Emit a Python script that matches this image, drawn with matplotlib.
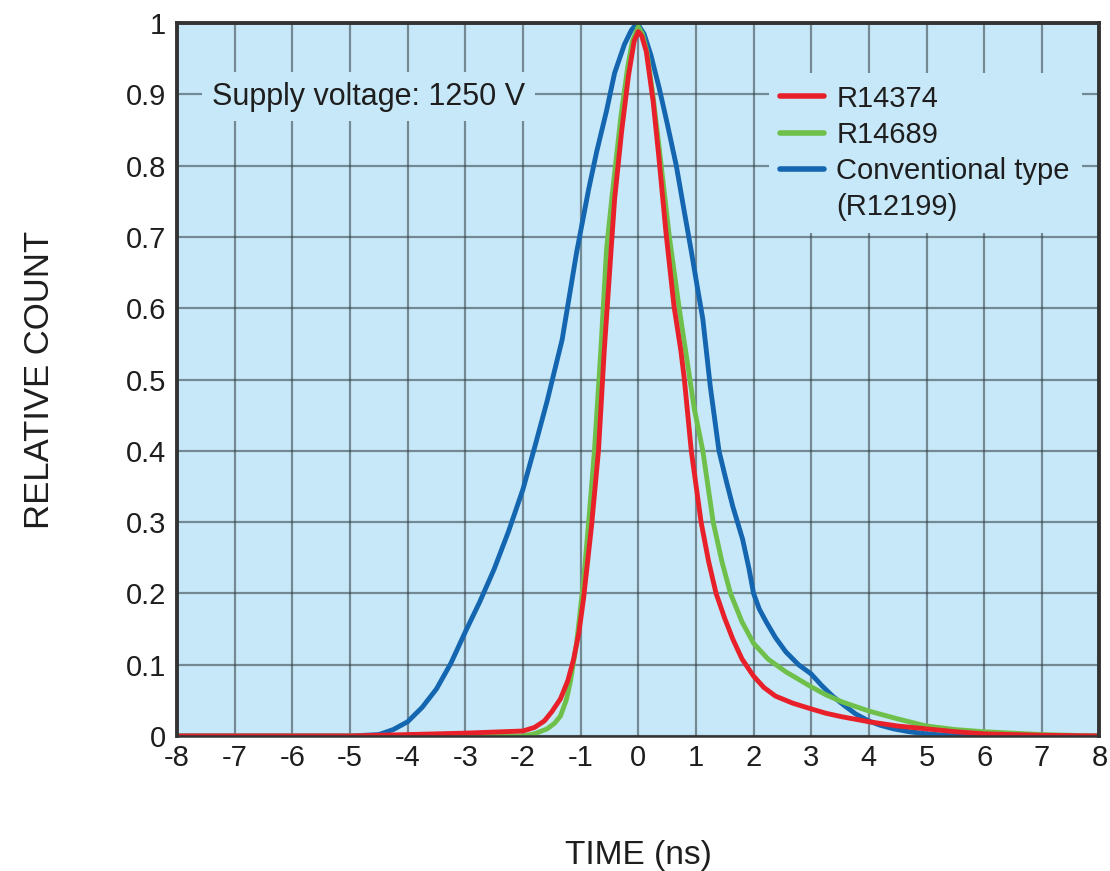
import matplotlib
matplotlib.use("Agg")
import matplotlib.pyplot as plt
from matplotlib.lines import Line2D

plt.rcParams['font.family'] = ['Liberation Sans', 'DejaVu Sans']
plt.rcParams['axes.unicode_minus'] = False

# ---- data ----
blue_x = [-8, -5, -4.5, -4.25, -4.0, -3.75, -3.5, -3.25, -3.0, -2.75, -2.5, -2.25, -2.0, -1.78,
          -1.58, -1.32, -1.07, -0.86, -0.72, -0.55, -0.41, -0.24, -0.12, -0.02, 0.1, 0.22,
          0.36, 0.5, 0.66, 0.8, 0.92, 1.02, 1.12, 1.25, 1.40, 1.52, 1.64, 1.81, 1.92, 2.0,
          2.1, 2.22, 2.38, 2.56, 2.78, 3.0, 3.18, 3.37, 3.57, 3.77, 4.0, 4.2, 4.43, 4.7, 5.0,
          5.5, 8]
blue_y = [0, 0, 0.002, 0.009, 0.02, 0.04, 0.066, 0.102, 0.146, 0.188, 0.234, 0.287, 0.346,
          0.41, 0.47, 0.556, 0.678, 0.767, 0.82, 0.877, 0.93, 0.97, 0.99, 1.0, 0.985, 0.955,
          0.91, 0.86, 0.80, 0.735, 0.68, 0.632, 0.585, 0.49, 0.40, 0.36, 0.322, 0.276, 0.235,
          0.2, 0.178, 0.16, 0.138, 0.118, 0.1, 0.087, 0.071, 0.056, 0.043, 0.031, 0.021, 0.015,
          0.01, 0.006, 0.003, 0.0, 0]

red_x = [-8, -5, -4, -3, -2.0, -1.8, -1.63, -1.5, -1.35, -1.22, -1.12, -1.03, -0.95, -0.81,
         -0.69, -0.59, -0.47, -0.41, -0.29, -0.17, -0.07, 0.0, 0.06, 0.14, 0.26, 0.36, 0.48,
         0.62, 0.74, 0.8, 0.92, 1.09, 1.22, 1.35, 1.5, 1.64, 1.8, 2.0, 2.18, 2.38, 2.68, 3.0,
         3.25, 3.53, 4.0, 4.5, 5.0, 5.5, 6.0, 7.0, 8.0]
red_y = [0, 0, 0.002, 0.004, 0.007, 0.012, 0.021, 0.034, 0.052, 0.078, 0.108, 0.145, 0.192,
         0.295, 0.40, 0.54, 0.683, 0.753, 0.847, 0.926, 0.975, 0.988, 0.982, 0.96, 0.889, 0.81,
         0.707, 0.603, 0.54, 0.5, 0.4, 0.3, 0.245, 0.2, 0.165, 0.136, 0.108, 0.084, 0.068,
         0.056, 0.046, 0.038, 0.032, 0.027, 0.02, 0.014, 0.01, 0.006, 0.003, 0.001, 0.0]

green_x = [-8, -2.0, -1.8, -1.58, -1.45, -1.35, -1.25, -1.18, -1.07, -0.95, -0.85, -0.76,
           -0.65, -0.55, -0.46, -0.3, -0.18, -0.1, 0.0, 0.07, 0.15, 0.26, 0.37, 0.54, 0.71,
           0.85, 0.97, 1.12, 1.3, 1.45, 1.6, 1.8, 2.0, 2.25, 2.56, 3.0, 3.25, 3.53, 4.0, 4.5,
           5.0, 5.5, 6.0, 7.0, 8.0]
green_y = [0, 0, 0.003, 0.01, 0.018, 0.028, 0.05, 0.075, 0.13, 0.216, 0.31, 0.40, 0.54,
           0.683, 0.753, 0.87, 0.94, 0.975, 0.995, 0.985, 0.96, 0.895, 0.82, 0.70, 0.6,
           0.525, 0.46, 0.4, 0.3, 0.245, 0.2, 0.16, 0.13, 0.108, 0.09, 0.069, 0.058, 0.048,
           0.035, 0.024, 0.014, 0.009, 0.006, 0.002, 0.0]

series_labels = ['R14374', 'R14689', 'Conventional type', '(R12199)']
x_ticks = list(range(-8, 9))
y_ticks = [0, 0.1, 0.2, 0.3, 0.4, 0.5, 0.6, 0.7, 0.8, 0.9, 1]
y_tick_labels = ['0', '0.1', '0.2', '0.3', '0.4', '0.5', '0.6', '0.7', '0.8', '0.9', '1']

# ---- style ----
BG = '#c7e8f8'
RED = '#e8202a'
GREEN = '#6fc04b'
BLUE = '#1466b0'
TXT = '#1e1e1e'

fig = plt.figure(figsize=(11.10, 8.71), dpi=100)
ax = fig.add_axes([0.1595, 0.155, 0.831, 0.8185])
ax.set_facecolor(BG)

lb, = ax.plot(blue_x, blue_y, color=BLUE, lw=3.5, solid_capstyle='round',
              solid_joinstyle='round', zorder=3)
lg, = ax.plot(green_x, green_y, color=GREEN, lw=3.5, solid_capstyle='round',
              solid_joinstyle='round', zorder=4)
lr, = ax.plot(red_x, red_y, color=RED, lw=3.5, solid_capstyle='round',
              solid_joinstyle='round', zorder=5)

ax.set_xlim(-8, 8)
ax.set_ylim(0, 1)
ax.set_xticks(x_ticks)
ax.set_xticklabels([str(v) for v in x_ticks])
ax.set_yticks(y_ticks)
ax.set_yticklabels(y_tick_labels)
ax.tick_params(axis='both', length=0, labelsize=21, colors=TXT)
ax.tick_params(axis='x', pad=6)
ax.tick_params(axis='y', pad=8)

ax.grid(True, color='#2f3b42', alpha=0.55, lw=1.6, zorder=1)
ax.set_axisbelow(True)
for name, s in ax.spines.items():
    s.set_color('#333333')
    s.set_linewidth(2.8 if name != 'bottom' else 1.8)
    s.set_zorder(6)

ax.set_xlabel('TIME (ns)', fontsize=24, color=TXT, labelpad=49)
ax.set_ylabel('RELATIVE COUNT', fontsize=25, color=TXT, labelpad=50)

ax.text(-7.4, 0.897, 'Supply voltage: 1250 V', fontsize=22, color=TXT, va='center', ha='left',
        zorder=2, bbox=dict(facecolor=BG, edgecolor='none', pad=7))

blank = Line2D([], [], color='none')
leg = ax.legend([lr, lg, lb, blank], series_labels, loc='upper left',
                bbox_to_anchor=(0.6415, 0.93),
                fontsize=21, frameon=True, facecolor=BG, edgecolor='none', framealpha=1,
                handlelength=1.5, handletextpad=0.42, labelspacing=0.28, borderpad=0.4,
                borderaxespad=0, fancybox=False)
for t in leg.get_texts():
    t.set_color(TXT)
for h in leg.get_lines()[:3]:
    h.set_linewidth(4)
leg.set_zorder(2)

fig.savefig('out.png', dpi=100)
